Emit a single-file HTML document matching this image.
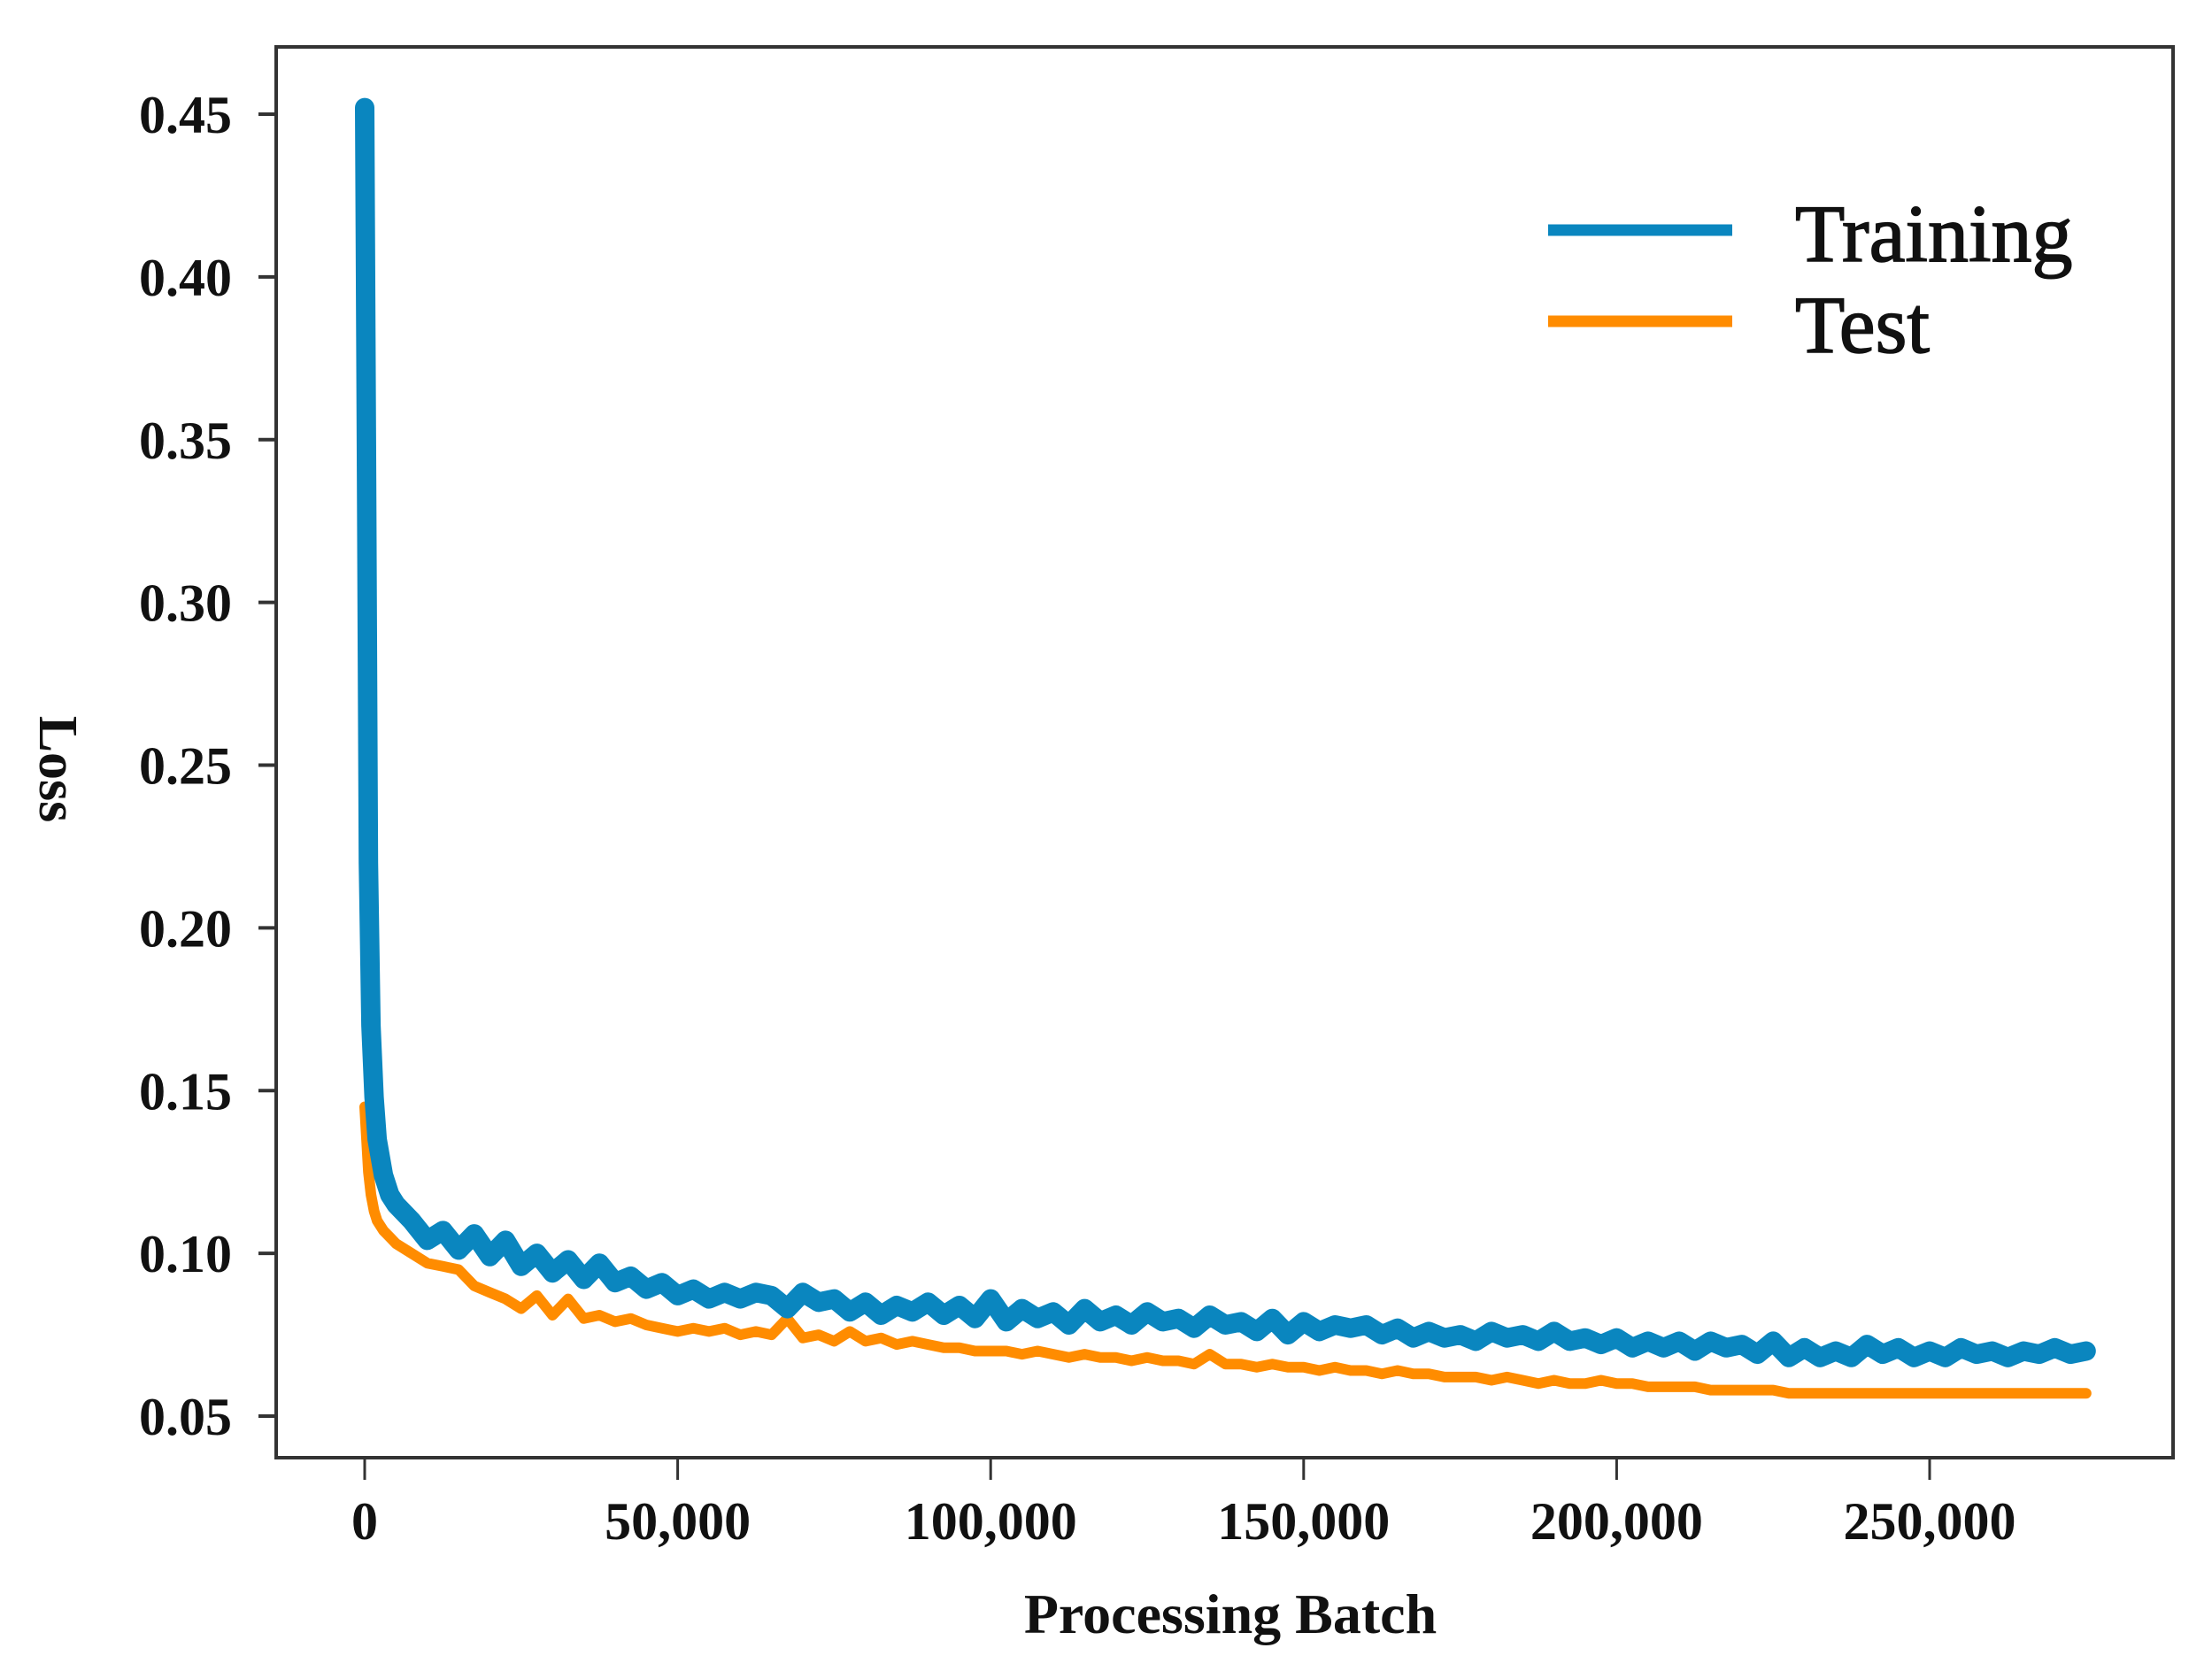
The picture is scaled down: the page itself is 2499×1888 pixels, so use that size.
<!DOCTYPE html>
<html><head><meta charset="utf-8"><style>
html,body{margin:0;padding:0;background:#fff;}
svg{display:block;}
text{font-family:"Liberation Serif",serif;fill:#111;}
</style></head><body>
<svg id="chart" width="2499" height="1888" viewBox="0 0 2499 1888" xmlns="http://www.w3.org/2000/svg">
<rect x="312" y="53" width="2143" height="1594" fill="none" stroke="#333" stroke-width="4"/>
<g id="yticks"></g>
<g id="xticks"></g>
<g id="series"></g>
<text transform="translate(45,869) rotate(90)" text-anchor="middle" font-size="62" font-weight="bold">Loss</text>
<text x="1390" y="1845" text-anchor="middle" font-size="64" font-weight="bold">Processing Batch</text>
<g>
<line x1="1749" y1="260" x2="1957" y2="260" stroke="#0a86bf" stroke-width="13"/>
<text x="2028" y="295" font-size="92" stroke="#111" stroke-width="1.5">Training</text>
<line x1="1749" y1="363" x2="1957" y2="363" stroke="#ff8c00" stroke-width="13"/>
<text x="2028" y="398" font-size="92" stroke="#111" stroke-width="1.5">Test</text>
</g>
</svg>
<script>
const yTicks=[0.05,0.10,0.15,0.20,0.25,0.30,0.35,0.40,0.45];
const yTickLabels=["0.05","0.10","0.15","0.20","0.25","0.30","0.35","0.40","0.45"];
const xTicks=[0,50000,100000,150000,200000,250000];
const xTickLabels=["0","50,000","100,000","150,000","200,000","250,000"];
const batches=[0,300,600,1000,1500,2000,3000,4000,
5000,7500,10000,12500,15000,17500,20000,22500,25000,27500,30000,32500,35000,37500,40000,42500,45000,47500,
50000,52500,55000,57500,60000,62500,65000,67500,70000,72500,75000,77500,80000,82500,85000,87500,90000,92500,95000,97500,
100000,102500,105000,107500,110000,112500,115000,117500,120000,122500,125000,127500,130000,132500,135000,137500,140000,142500,145000,147500,
150000,152500,155000,157500,160000,162500,165000,167500,170000,172500,175000,177500,180000,182500,185000,187500,190000,192500,195000,197500,
200000,202500,205000,207500,210000,212500,215000,217500,220000,222500,225000,227500,230000,232500,235000,237500,240000,242500,245000,247500,
250000,252500,255000,257500,260000,262500,265000,267500,270000,272500,275000];
const trainingLoss=[.452,.34,.22,.17,.148,.135,.124,.118,
.115,.110,.104,.107,.101,.106,.099,.104,.096,.100,.094,.098,.092,.097,.091,.093,.089,.091,
.087,.089,.086,.088,.086,.088,.087,.083,.088,.085,.086,.082,.085,.081,.084,.082,.085,.081,.084,.080,
.086,.079,.083,.080,.082,.078,.083,.079,.081,.078,.082,.079,.080,.077,.081,.078,.079,.076,.080,.075,
.079,.076,.078,.077,.078,.075,.077,.074,.076,.074,.075,.073,.076,.074,.075,.073,.076,.073,.074,.072,
.074,.071,.073,.071,.073,.070,.073,.071,.072,.069,.073,.068,.071,.068,.070,.068,.072,.069,.071,.068,
.070,.068,.071,.069,.070,.068,.070,.069,.071,.069,.070];
const testLoss=[.145,.135,.125,.118,.113,.110,.107,.105,
.103,.100,.097,.096,.095,.090,.088,.086,.083,.087,.081,.086,.080,.081,.079,.080,.078,.077,
.076,.077,.076,.077,.075,.076,.075,.080,.074,.075,.073,.076,.073,.074,.072,.073,.072,.071,.071,.070,
.070,.070,.069,.070,.069,.068,.069,.068,.068,.067,.068,.067,.067,.066,.069,.066,.066,.065,.066,.065,
.065,.064,.065,.064,.064,.063,.064,.063,.063,.062,.062,.062,.061,.062,.061,.060,.061,.060,.060,.061,
.060,.060,.059,.059,.059,.059,.058,.058,.058,.058,.058,.057,.057,.057,.057,.057,.057,.057,.057,.057,
.057,.057,.057,.057,.057,.057,.057,.057,.057,.057,.057];
const NS="http://www.w3.org/2000/svg";
function xScale(v){return 412+(v-0)/250000*1768;}
function yScale(v){return 129+(0.45-v)/0.40*1471;}
const yg=document.getElementById('yticks');
yTicks.forEach((t,i)=>{
  const y=yScale(t);
  const l=document.createElementNS(NS,'line');
  
  
  l.setAttribute('x1',292);l.setAttribute('x2',312);l.setAttribute('y1',y);l.setAttribute('y2',y);
  l.setAttribute('stroke','#333');l.setAttribute('stroke-width',4);
  yg.appendChild(l);
  const tx=document.createElementNS(NS,'text');
  
  
  tx.setAttribute('x',262);tx.setAttribute('y',y+21);
  tx.setAttribute('text-anchor','end');tx.setAttribute('font-size','60');tx.setAttribute('font-weight','bold');
  tx.textContent=yTickLabels[i];
  yg.appendChild(tx);
});
const xg=document.getElementById('xticks');
xTicks.forEach((t,i)=>{
  const x=xScale(t);
  const l=document.createElementNS(NS,'line');
  
  
  l.setAttribute('x1',x);l.setAttribute('x2',x);l.setAttribute('y1',1647);l.setAttribute('y2',1672);
  l.setAttribute('stroke','#333');l.setAttribute('stroke-width',3);
  xg.appendChild(l);
  const tx=document.createElementNS(NS,'text');
  
  
  tx.setAttribute('x',x);tx.setAttribute('y',1739);
  tx.setAttribute('text-anchor','middle');tx.setAttribute('font-size','60');tx.setAttribute('font-weight','bold');
  tx.textContent=xTickLabels[i];
  xg.appendChild(tx);
});
const sg=document.getElementById('series');
function drawLine(vals,color,w,name){
  const d=vals.map((v,i)=>(i?'L':'M')+xScale(batches[i]).toFixed(1)+' '+yScale(v).toFixed(1)).join(' ');
  const p=document.createElementNS(NS,'path');
  
  
  p.setAttribute('d',d);p.setAttribute('fill','none');p.setAttribute('stroke',color);
  p.setAttribute('stroke-width',w);p.setAttribute('stroke-linejoin','round');p.setAttribute('stroke-linecap','round');
  sg.appendChild(p);
}
drawLine(testLoss,'#ff8c00',12,'test-line');
drawLine(trainingLoss,'#0a86bf',22,'training-line');
</script>
</body></html>
